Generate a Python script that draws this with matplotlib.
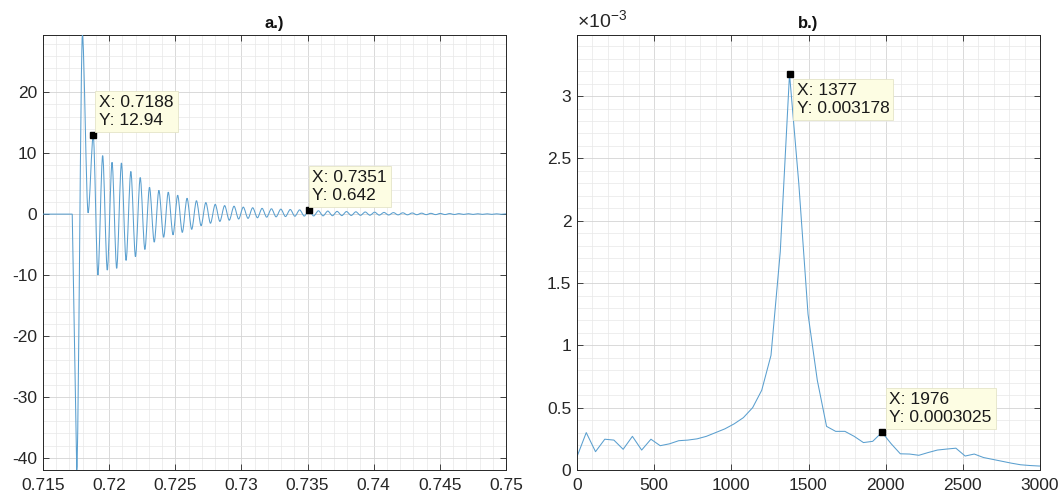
import numpy as np
import matplotlib
matplotlib.use('Agg')
import matplotlib.pyplot as plt
from matplotlib.ticker import MultipleLocator, FixedLocator, FixedFormatter
from matplotlib.path import Path
from matplotlib.patches import PathPatch

plt.rcParams['font.family'] = ['Liberation Sans', 'DejaVu Sans']
plt.rcParams['axes.unicode_minus'] = False

# ---------------- Panel a.) : time signal (extrema read from picture) ----------------
onset_t = [0.71500, 0.71721, 0.71755, 0.71798, 0.71841]
onset_v = [0.0, 0.0, -42.0, 29.4, 0.2]

peak_t = [0.71880, 0.71951, 0.72022, 0.72093, 0.72164, 0.72235, 0.72305, 0.72376,
          0.72447, 0.72518, 0.72589, 0.72660, 0.72731, 0.72802, 0.72873, 0.72944,
          0.73014, 0.73085, 0.73156, 0.73227, 0.73298, 0.73369, 0.73440, 0.73510,
          0.73582, 0.73653, 0.73723, 0.73794, 0.73865, 0.73936, 0.74007, 0.74078,
          0.74149, 0.74220, 0.74291, 0.74362, 0.74432, 0.74503, 0.74574, 0.74645,
          0.74716, 0.74787, 0.74858, 0.74929, 0.75000]
peak_v = [12.94, 9.6, 8.5, 8.4, 7.0, 6.0, 4.4, 3.9,
          3.6, 3.1, 2.6, 2.2, 1.9, 1.6, 1.4, 1.3,
          1.15, 1.05, 0.95, 0.88, 0.82, 0.76, 0.70, 0.642,
          0.55, 0.50, 0.45, 0.42, 0.38, 0.35, 0.32, 0.28,
          0.25, 0.22, 0.19, 0.16, 0.13, 0.11, 0.09, 0.08,
          0.07, 0.06, 0.05, 0.05, 0.04]

trough_t = [0.71915, 0.71986, 0.72057, 0.72128, 0.72199, 0.72270, 0.72341, 0.72412,
            0.72483, 0.72553, 0.72624, 0.72695, 0.72766, 0.72837, 0.72908, 0.72979,
            0.73050, 0.73121, 0.73191, 0.73262, 0.73333, 0.73404, 0.73475, 0.73546,
            0.73617, 0.73688, 0.73759, 0.73830, 0.73900, 0.73971, 0.74042, 0.74113,
            0.74184, 0.74255, 0.74326, 0.74397, 0.74468, 0.74539, 0.74609, 0.74680,
            0.74751, 0.74822, 0.74893, 0.74964]
trough_v = [-10.0, -9.2, -8.9, -7.6, -7.0, -5.8, -4.6, -3.8,
            -3.4, -3.0, -2.5, -1.9, -1.5, -1.2, -1.0, -0.8,
            -0.7, -0.6, -0.5, -0.45, -0.4, -0.35, -0.32, -0.30,
            -0.28, -0.26, -0.24, -0.22, -0.20, -0.18, -0.17, -0.15,
            -0.13, -0.12, -0.10, -0.09, -0.08, -0.07, -0.06, -0.05,
            -0.05, -0.04, -0.04, -0.03]

a_xticks = [0.715, 0.72, 0.725, 0.73, 0.735, 0.74, 0.745, 0.75]
a_xlabels = ['0.715', '0.72', '0.725', '0.73', '0.735', '0.74', '0.745', '0.75']
a_yticks = [-40, -30, -20, -10, 0, 10, 20]
a_ylabels = ['-40', '-30', '-20', '-10', '0', '10', '20']

a_tip_x = [0.7188, 0.7351]
a_tip_y = [12.94, 0.642]
a_tip_txt = ['X: 0.7188\nY: 12.94', 'X: 0.7351\nY: 0.642']

# ---------------- Panel b.) : spectrum ----------------
freq = [0, 60, 120, 180, 239, 299, 359, 419, 479, 539, 599, 659, 718, 778, 838, 898,
        958, 1018, 1078, 1138, 1197, 1257, 1317, 1377, 1437, 1497, 1557, 1617, 1676,
        1736, 1796, 1856, 1916, 1976, 2036, 2095, 2155, 2215, 2275, 2335, 2395, 2455,
        2515, 2574, 2634, 2694, 2754, 2814, 2874, 2934, 2993, 3053]
amp = [0.107e-3, 0.30e-3, 0.147e-3, 0.247e-3, 0.24e-3, 0.166e-3, 0.27e-3, 0.16e-3,
       0.247e-3, 0.195e-3, 0.21e-3, 0.235e-3, 0.24e-3, 0.25e-3, 0.27e-3, 0.30e-3,
       0.33e-3, 0.37e-3, 0.42e-3, 0.50e-3, 0.64e-3, 0.92e-3, 1.75e-3, 3.178e-3,
       2.3e-3, 1.25e-3, 0.72e-3, 0.35e-3, 0.31e-3, 0.31e-3, 0.27e-3, 0.22e-3,
       0.23e-3, 0.3025e-3, 0.21e-3, 0.13e-3, 0.128e-3, 0.118e-3, 0.14e-3, 0.16e-3,
       0.168e-3, 0.175e-3, 0.112e-3, 0.128e-3, 0.10e-3, 0.085e-3, 0.07e-3, 0.055e-3,
       0.042e-3, 0.036e-3, 0.032e-3, 0.030e-3]

b_xticks = [0, 500, 1000, 1500, 2000, 2500, 3000]
b_xlabels = ['0', '500', '1000', '1500', '2000', '2500', '3000']
b_yticks = [0, 0.5e-3, 1e-3, 1.5e-3, 2e-3, 2.5e-3, 3e-3]
b_ylabels = ['0', '0.5', '1', '1.5', '2', '2.5', '3']

b_tip_x = [1377, 1976]
b_tip_y = [0.003178, 0.0003025]
b_tip_txt = ['X: 1377\nY: 0.003178', 'X: 1976\nY: 0.0003025']

# ---------------- build the time signal ----------------
sig_t = list(onset_t)
sig_v = list(onset_v)
for i in range(len(peak_t)):
    sig_t.append(peak_t[i]); sig_v.append(peak_v[i])
    if i < len(trough_t):
        sig_t.append(trough_t[i]); sig_v.append(trough_v[i])

LINE = '#5a9fcf'
TXT = '#262626'
FS = 12.5

fig = plt.figure(figsize=(10.62, 4.98), dpi=100)
W, H = 1062, 498
ax1 = fig.add_axes([43 / W, 28 / H, 463 / W, 435 / H])
ax2 = fig.add_axes([577 / W, 28 / H, 463 / W, 435 / H])


def style(ax):
    ax.tick_params(which='major', direction='in', top=True, right=True, length=4.5,
                   width=0.6, color=TXT, labelcolor=TXT, labelsize=FS)
    ax.tick_params(axis='x', which='major', pad=6)
    ax.tick_params(axis='y', which='major', pad=4)
    ax.tick_params(which='minor', length=0, top=True, right=True)
    for s in ax.spines.values():
        s.set_color(TXT)
        s.set_linewidth(0.7)
    ax.grid(which='major', color='#d3d3d3', lw=0.6)
    ax.grid(which='minor', color='#e8e8e8', lw=0.5)
    ax.set_axisbelow(True)


def datatip(ax, x, y, txt, dx, dy, va):
    ax.plot([x], [y], 's', color='k', ms=4.2, zorder=5)
    ax.annotate(txt, xy=(x, y), xytext=(dx, dy), textcoords='offset pixels',
                ha='left', va=va, fontsize=FS, color='#1a1a1a', linespacing=1.25,
                bbox=dict(boxstyle='square,pad=0.22', fc='#fdfde3', ec='#e4e4c8', lw=0.6),
                zorder=6)


# panel a : smooth curve through the read extrema (cubic Bezier, flat at extrema)
verts = [(sig_t[0], sig_v[0])]
codes = [Path.MOVETO]
for i in range(1, len(sig_t)):
    t0, v0 = sig_t[i - 1], sig_v[i - 1]
    t1, v1 = sig_t[i], sig_v[i]
    k = 0.3 if i > 2 else 0.0
    verts += [(t0 + k * (t1 - t0), v0), (t1 - k * (t1 - t0), v1), (t1, v1)]
    codes += [Path.CURVE4, Path.CURVE4, Path.CURVE4]
ax1.add_patch(PathPatch(Path(verts, codes), fill=False, ec=LINE, lw=0.75, zorder=3))
ax1.set_xlim(0.715, 0.75)
ax1.set_ylim(-42, 29.4)
ax1.xaxis.set_major_locator(FixedLocator(a_xticks))
ax1.xaxis.set_major_formatter(FixedFormatter(a_xlabels))
ax1.yaxis.set_major_locator(FixedLocator(a_yticks))
ax1.yaxis.set_major_formatter(FixedFormatter(a_ylabels))
ax1.xaxis.set_minor_locator(MultipleLocator(0.001))
ax1.yaxis.set_minor_locator(MultipleLocator(2))
style(ax1)
ax1.set_title('a.)', fontsize=12, fontweight='bold', color='#111111', pad=5)
datatip(ax1, a_tip_x[0], a_tip_y[0], a_tip_txt[0], 6, 7.5, 'bottom')
datatip(ax1, a_tip_x[1], a_tip_y[1], a_tip_txt[1], 3.5, 7.5, 'bottom')

# panel b
ax2.plot(freq, amp, color=LINE, lw=0.75)
ax2.set_xlim(0, 3000)
ax2.set_ylim(0, 3.49e-3)
ax2.xaxis.set_major_locator(FixedLocator(b_xticks))
ax2.xaxis.set_major_formatter(FixedFormatter(b_xlabels))
ax2.yaxis.set_major_locator(FixedLocator(b_yticks))
ax2.yaxis.set_major_formatter(FixedFormatter(b_ylabels))
ax2.xaxis.set_minor_locator(MultipleLocator(100))
ax2.yaxis.set_minor_locator(MultipleLocator(0.1e-3))
style(ax2)
ax2.set_title('b.)', fontsize=12, fontweight='bold', color='#111111', pad=5)
ax2.text(0.0, 1.006, '×10$^{\\mathregular{-3}}$', transform=ax2.transAxes,
         ha='left', va='bottom', fontsize=14, color=TXT)
datatip(ax2, b_tip_x[0], b_tip_y[0], b_tip_txt[0], 7, -9, 'top')
datatip(ax2, b_tip_x[1], b_tip_y[1], b_tip_txt[1], 7.5, 7.5, 'bottom')

fig.savefig('out.png', dpi=100)
